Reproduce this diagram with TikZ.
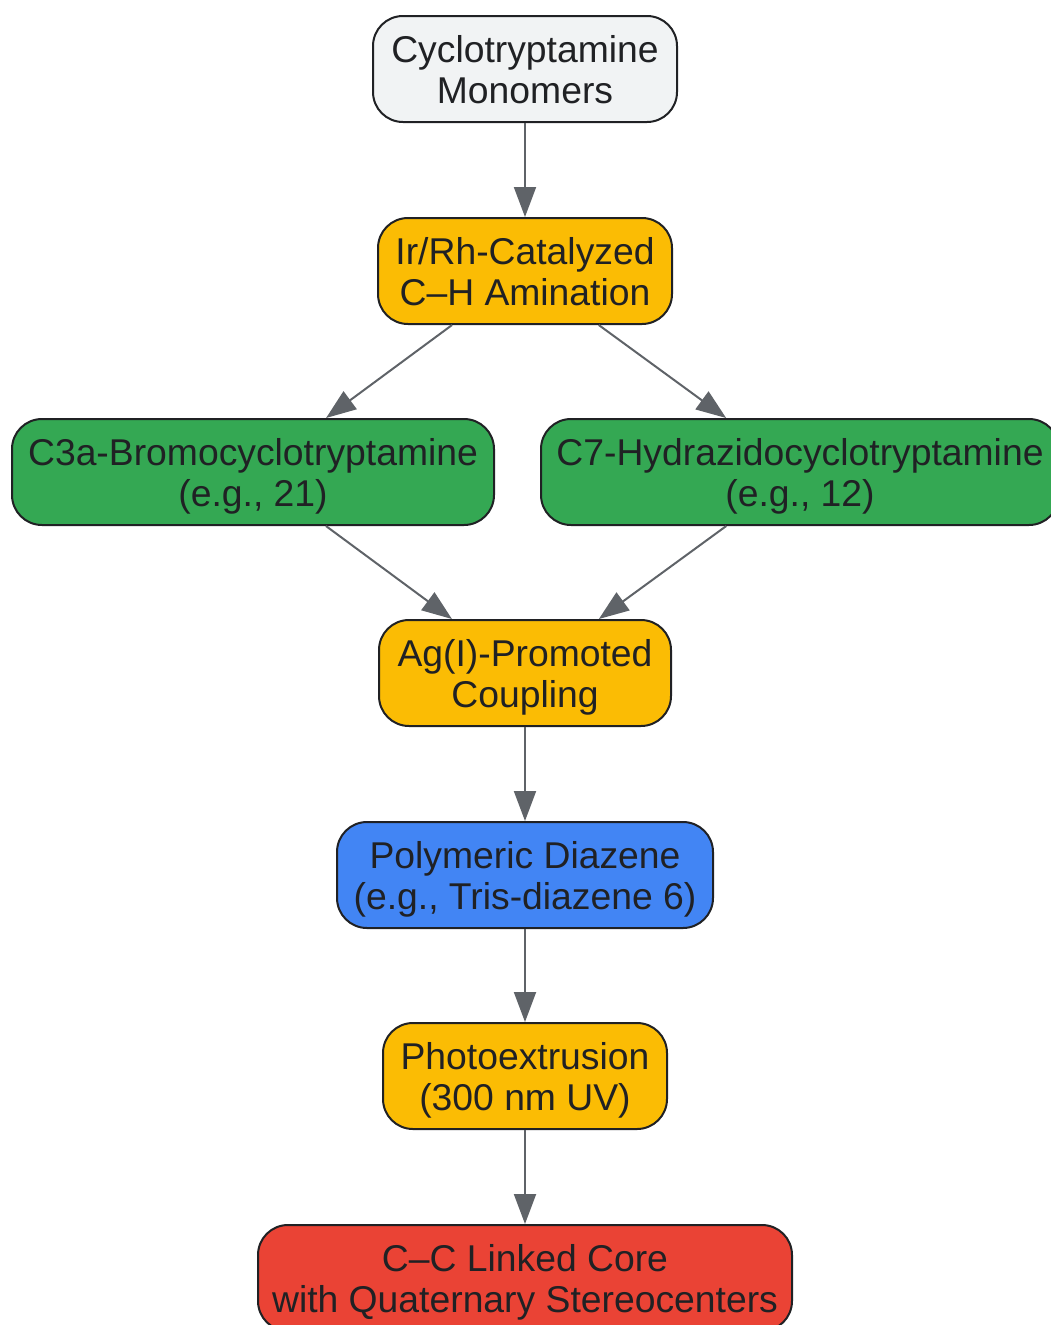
\documentclass[tikz,border=0pt]{standalone}
\usepackage{fontspec}
\setmainfont{Liberation Sans}
\usetikzlibrary{arrows.meta}
\definecolor{cgray}{HTML}{F1F3F4}
\definecolor{cyellow}{HTML}{FBBC04}
\definecolor{cgreen}{HTML}{34A853}
\definecolor{cblue}{HTML}{4285F4}
\definecolor{cred}{HTML}{EA4335}
\definecolor{cborder}{HTML}{202124}
\definecolor{carrow}{HTML}{5F6368}
\newcommand\bxs{\rule[-8.5pt]{0pt}{44.5pt}}
\newcommand\bxfont{\fontsize{37.3}{41.5}\selectfont\lineskiplimit=-200pt\relax\lineskip=0pt\relax}
\tikzset{
  box/.style={draw=cborder, line width=2pt, rounded corners=30pt, minimum height=106pt,
    inner sep=0pt, align=center, text=cborder, font=\bxfont},
  conn/.style={draw=carrow, line width=2pt, -{Triangle[length=30pt,width=22pt]}}
}
\begin{document}
\begin{tikzpicture}[x=1pt,y=-1pt]
\useasboundingbox (0,0) rectangle (1051,1325);
\node[box, fill=cgray, minimum width=304pt] (n1) at (525,69) {\bxs Cyclotryptamine\\\bxs Monomers};
\node[box, fill=cyellow, minimum width=294pt] (n2) at (525,271) {\bxs Ir/Rh-Catalyzed\\\bxs C–H Amination};
\node[box, fill=cgreen, minimum width=482pt] (n3) at (253,472) {\bxs C3a-Bromocyclotryptamine\\\bxs (e.g., 21)};
\node[box, fill=cgreen, minimum width=518pt] (n4) at (800,472) {\bxs C7-Hydrazidocyclotryptamine\\\bxs (e.g., 12)};
\node[box, fill=cyellow, minimum width=292pt] (n5) at (525,673) {\bxs Ag(I)-Promoted\\\bxs Coupling};
\node[box, fill=cblue, minimum width=376pt] (n6) at (525,875) {\bxs Polymeric Diazene\\\bxs (e.g., Tris-diazene 6)};
\node[box, fill=cyellow, minimum width=284pt] (n7) at (525,1076) {\bxs Photoextrusion\\\bxs (300 nm UV)};
\node[box, fill=cred, minimum width=534pt] (n8) at (525,1278) {\bxs C–C Linked Core\\\bxs with Quaternary Stereocenters};
\draw[conn] (n1) -- (n2);
\draw[conn] (n2) -- (n3);
\draw[conn] (n2) -- (n4);
\draw[conn] (n3) -- (n5);
\draw[conn] (n4) -- (n5);
\draw[conn] (n5) -- (n6);
\draw[conn] (n6) -- (n7);
\draw[conn] (n7) -- (n8);
\end{tikzpicture}
\end{document}
